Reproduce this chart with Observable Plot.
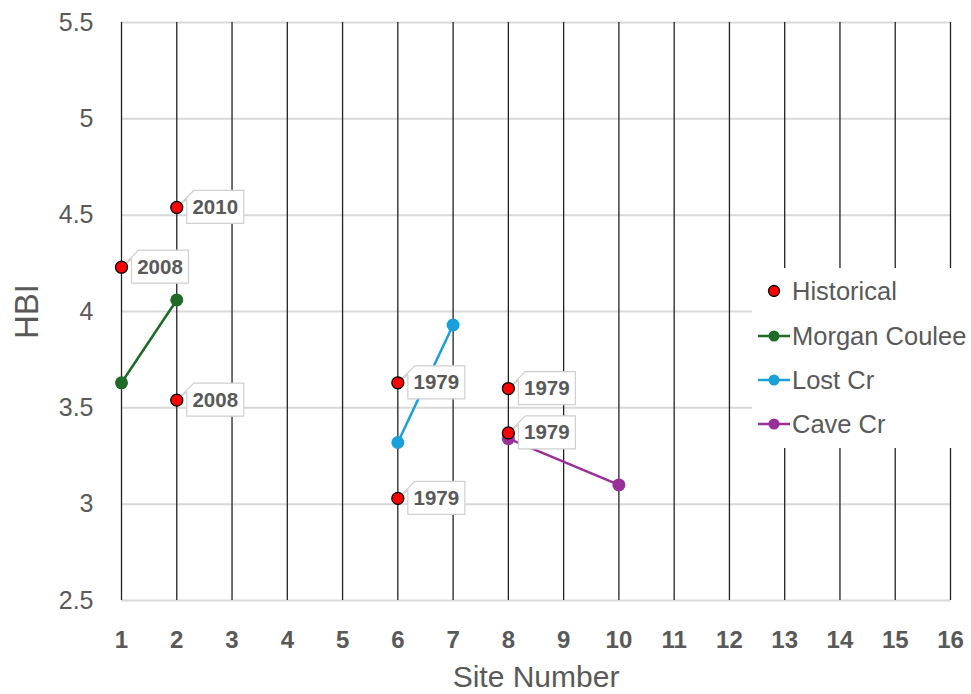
<!DOCTYPE html>
<html>
<head>
<meta charset="utf-8">
<script src="https://cdn.jsdelivr.net/npm/d3@7"></script>
<script src="https://cdn.jsdelivr.net/npm/@observablehq/plot@0.6"></script>
<style>
  html, body { margin: 0; padding: 0; background: #fff; }
  #chart { position: relative; width: 971px; height: 694px; font-family: "Liberation Sans", Arial, sans-serif; }
  #legend { position: absolute; left: 752px; top: 268px; width: 219px; height: 180px; background: #fff; }
  .item { position: absolute; left: 0; height: 30px; display: flex; align-items: center; font-size: 25.5px; color: #595959; }
  .item svg { width: 40px; height: 30px; display: block; }
  .item span { white-space: nowrap; }
</style>
</head>
<body>
<div id="chart"></div>
<script>
// Site numbers along the x axis
const sites = [1, 2, 3, 4, 5, 6, 7, 8, 9, 10, 11, 12, 13, 14, 15, 16];
const hbiTicks = [2.5, 3, 3.5, 4, 4.5, 5, 5.5];

// Historical HBI observations with the survey year
const histSite = [1, 2, 2, 6, 6, 8, 8];
const histHBI = [4.23, 4.54, 3.54, 3.63, 3.03, 3.60, 3.37];
const histYear = ["2008", "2010", "2008", "1979", "1979", "1979", "1979"];

// Recent survey series
const morganSite = [1, 2];
const morganHBI = [3.63, 4.06];
const lostSite = [6, 7];
const lostHBI = [3.32, 3.93];
const caveSite = [8, 10];
const caveHBI = [3.34, 3.10];

const seriesNames = ["Historical", "Morgan Coulee", "Lost Cr", "Cave Cr"];
const colors = { "Morgan Coulee": "#1e6b27", "Lost Cr": "#19a0d9", "Cave Cr": "#9a2f98" };

const hist = histSite.map((s, i) => ({ site: s, hbi: histHBI[i], year: histYear[i] }));
const series = [
  ...morganSite.map((s, i) => ({ name: "Morgan Coulee", site: s, hbi: morganHBI[i] })),
  ...lostSite.map((s, i) => ({ name: "Lost Cr", site: s, hbi: lostHBI[i] })),
  ...caveSite.map((s, i) => ({ name: "Cave Cr", site: s, hbi: caveHBI[i] }))
];

// Callout box to the right of a point, with a wedge pointing back at it
const callout = {
  draw(context) {
    context.moveTo(2, -2);
    context.lineTo(10, -8);
    context.lineTo(10, 16);
    context.lineTo(67, 16);
    context.lineTo(67, -17);
    context.lineTo(17, -17);
    context.closePath();
  }
};

const font = "Liberation Sans, Arial, sans-serif";
const gray = "#595959";

const chart = Plot.plot({
  width: 971,
  height: 694,
  marginLeft: 121,
  marginRight: 21,
  marginTop: 22,
  marginBottom: 94,
  style: { fontFamily: font, color: gray, background: "#fff" },
  x: { domain: [1, 16], label: null },
  y: { domain: [2.5, 5.5], label: null },
  marks: [
    Plot.gridY(hbiTicks, { stroke: "#d9d9d9", strokeWidth: 2, strokeOpacity: 1 }),
    Plot.ruleX(sites, { stroke: "#222", strokeWidth: 1.3 }),
    Plot.axisX({ ticks: sites, tickSize: 0, tickPadding: 30, fontSize: 24, fontWeight: "bold", fill: gray, tickFormat: d => String(d), label: null }),
    Plot.axisY({ ticks: hbiTicks, tickSize: 0, tickPadding: 28, fontSize: 25, fill: gray, tickFormat: d => String(d), label: null }),
    Plot.text(["HBI"], { frameAnchor: "left", dx: -94, rotate: -90, textAnchor: "middle", lineAnchor: "middle", fontSize: 33, fill: gray }),
    Plot.text(["Site Number"], { frameAnchor: "bottom", dy: 77, textAnchor: "middle", lineAnchor: "middle", fontSize: 30, fill: gray }),
    Plot.line(series, { x: "site", y: "hbi", z: "name", stroke: d => colors[d.name], strokeWidth: 2.5 }),
    Plot.dot(series, { x: "site", y: "hbi", r: 6.5, fill: d => colors[d.name], stroke: "none" }),
    Plot.dot(hist, { x: "site", y: "hbi", symbol: callout, fill: "#fff", stroke: "#d0d0d0", strokeWidth: 1.2 }),
    Plot.text(hist, { x: "site", y: "hbi", text: "year", dx: 38.5, fontSize: 20.5, fontWeight: "bold", fill: gray }),
    Plot.dot(hist, { x: "site", y: "hbi", r: 6, fill: "#ff0000", stroke: "#000", strokeWidth: 1.3 })
  ]
});

const root = document.getElementById("chart");
root.appendChild(chart);

// Legend panel drawn over the right side of the plot
const legend = document.createElement("div");
legend.id = "legend";
const rowTops = [8, 53, 97, 141];
seriesNames.forEach((name, i) => {
  const item = document.createElement("div");
  item.className = "item";
  item.style.top = rowTops[i] + "px";
  const ns = "http://www.w3.org/2000/svg";
  const svg = document.createElementNS(ns, "svg");
  if (name === "Historical") {
    const c = document.createElementNS(ns, "circle");
    c.setAttribute("cx", 22); c.setAttribute("cy", 15); c.setAttribute("r", 5.5);
    c.setAttribute("fill", "#ff0000"); c.setAttribute("stroke", "#000"); c.setAttribute("stroke-width", 1.3);
    svg.appendChild(c);
  } else {
    const l = document.createElementNS(ns, "line");
    l.setAttribute("x1", 6); l.setAttribute("x2", 38); l.setAttribute("y1", 15); l.setAttribute("y2", 15);
    l.setAttribute("stroke", colors[name]); l.setAttribute("stroke-width", 2.5);
    const c = document.createElementNS(ns, "circle");
    c.setAttribute("cx", 22); c.setAttribute("cy", 15); c.setAttribute("r", 5.5);
    c.setAttribute("fill", colors[name]);
    svg.appendChild(l); svg.appendChild(c);
  }
  const label = document.createElement("span");
  label.textContent = name;
  item.appendChild(svg);
  item.appendChild(label);
  legend.appendChild(item);
});
root.appendChild(legend);
</script>
</body>
</html>
